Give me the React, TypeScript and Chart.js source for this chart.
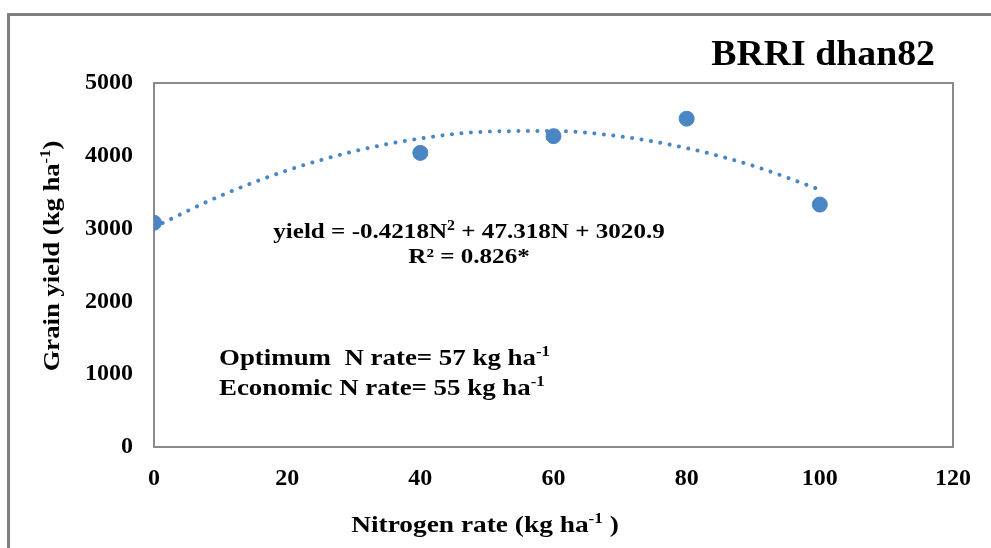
import React, { useEffect, useRef } from "react";
import { Chart, registerables } from "chart.js";

Chart.register(...registerables);

const nitrogenRates = [0, 40, 60, 80, 100];
const grainYield = [3080, 4040, 4270, 4510, 3330];
const trendRates = [0, 10, 20, 30, 40, 50, 60, 70, 80, 90, 100];
const trendYield = [3021, 3452, 3799, 4061, 4238, 4332, 4341, 4266, 4106, 3862, 3535];
const xTicks = [0, 20, 40, 60, 80, 100, 120];
const yTicks = [0, 1000, 2000, 3000, 4000, 5000];

const FONT = "'Liberation Serif', 'Times New Roman', serif";
const BLUE = "#4a86c4";

type Seg = { t: string; sup?: boolean };

function drawRich(
  ctx: CanvasRenderingContext2D,
  segs: Seg[],
  x: number,
  y: number,
  size: number,
  align: "left" | "center" | "right",
  stretch = 1
) {
  const supSize = Math.round(size * 0.62);
  let total = 0;
  const widths = segs.map((s) => {
    ctx.font = `bold ${s.sup ? supSize : size}px ${FONT}`;
    const w = ctx.measureText(s.t).width;
    total += w;
    return w;
  });
  ctx.save();
  ctx.translate(x, y);
  ctx.scale(stretch, 1);
  let cx = align === "left" ? 0 : align === "center" ? -total / 2 : -total;
  ctx.textAlign = "left";
  ctx.textBaseline = "alphabetic";
  segs.forEach((s, i) => {
    ctx.font = `bold ${s.sup ? supSize : size}px ${FONT}`;
    ctx.fillText(s.t, cx, s.sup ? -size * 0.38 : 0);
    cx += widths[i];
  });
  ctx.restore();
}

const decorPlugin = {
  id: "decor",
  beforeDatasetsDraw(chart: any) {
    const ctx = chart.ctx as CanvasRenderingContext2D;
    const a = chart.chartArea;
    ctx.save();
    // outer frame
    ctx.strokeStyle = "#7f7f7f";
    ctx.lineWidth = 3;
    ctx.strokeRect(8.5, 14.5, 1100, 700);
    // plot area border
    ctx.strokeStyle = "#8a8a8a";
    ctx.lineWidth = 2;
    ctx.strokeRect(a.left, a.top, a.right - a.left, a.bottom - a.top);
    ctx.restore();
  },
  afterDraw(chart: any) {
    const ctx = chart.ctx as CanvasRenderingContext2D;
    ctx.save();
    ctx.fillStyle = "#000";
    // title
    drawRich(ctx, [{ t: "BRRI dhan82" }], 935, 65, 36, "right", 1.05);
    // equation
    drawRich(
      ctx,
      [{ t: "yield = -0.4218N" }, { t: "2", sup: true }, { t: " + 47.318N + 3020.9" }],
      469,
      238,
      22,
      "center",
      1.14
    );
    drawRich(ctx, [{ t: "R² = 0.826*" }], 469, 263, 22, "center", 1.14);
    // optimum / economic
    drawRich(ctx, [{ t: "Optimum  N rate= 57 kg ha" }, { t: "-1", sup: true }], 219, 365, 24, "left", 1.12);
    drawRich(ctx, [{ t: "Economic N rate= 55 kg ha" }, { t: "-1", sup: true }], 219, 395, 24, "left", 1.12);
    // x title
    drawRich(ctx, [{ t: "Nitrogen rate (kg ha" }, { t: "-1", sup: true }, { t: " )" }], 485, 532, 24, "center", 1.14);
    // y title
    ctx.translate(59, 256);
    ctx.rotate(-Math.PI / 2);
    drawRich(ctx, [{ t: "Grain yield (kg ha" }, { t: "-1", sup: true }, { t: ")" }], 0, 0, 24, "center", 1.11);
    ctx.restore();
  },
};

export default function App() {
  const ref = useRef<HTMLCanvasElement | null>(null);
  useEffect(() => {
    if (!ref.current) return;
    const chart = new Chart(ref.current, {
      type: "scatter",
      data: {
        datasets: [
          {
            label: "Grain yield",
            data: nitrogenRates.map((n, i) => ({ x: n, y: grainYield[i] })),
            backgroundColor: BLUE,
            borderColor: BLUE,
            pointRadius: 7.5,
            pointHoverRadius: 7.5,
            showLine: false,
          },
          {
            label: "Trend",
            data: trendRates.map((n, i) => ({ x: n, y: trendYield[i] })),
            borderColor: BLUE,
            backgroundColor: BLUE,
            borderWidth: 4,
            borderDash: [0.01, 9.5],
            borderCapStyle: "round",
            pointRadius: 0,
            showLine: true,
            tension: 0.4,
            cubicInterpolationMode: "monotone",
          },
        ],
      },
      options: {
        responsive: false,
        animation: false,
        events: [],
        layout: { padding: { left: 54, top: 83, right: 38, bottom: 41 } },
        plugins: { legend: { display: false }, tooltip: { enabled: false }, title: { display: false } },
        scales: {
          x: {
            type: "linear",
            min: 0,
            max: 120,
            afterFit: (s: any) => {
              s.height = 60;
            },
            afterBuildTicks: (s: any) => {
              s.ticks = xTicks.map((v) => ({ value: v }));
            },
            ticks: {
              color: "#000",
              font: { family: FONT, size: 24, weight: "bold" },
              padding: 17,
              maxRotation: 0,
              callback: (v: any) => String(v),
            },
            grid: { display: false, drawTicks: false },
            border: { display: false },
          },
          y: {
            type: "linear",
            min: 0,
            max: 5000,
            afterFit: (s: any) => {
              s.width = 100;
            },
            afterBuildTicks: (s: any) => {
              s.ticks = yTicks.map((v) => ({ value: v }));
            },
            ticks: {
              color: "#000",
              font: { family: FONT, size: 24, weight: "bold" },
              padding: 21,
              callback: (v: any) => String(v),
            },
            grid: { display: false, drawTicks: false },
            border: { display: false },
          },
        },
      },
      plugins: [decorPlugin],
    } as any);
    return () => chart.destroy();
  }, []);
  return (
    <div style={{ position: "absolute", left: 0, top: 0, width: 991, height: 548, background: "#fff" }}>
      <canvas ref={ref} width={991} height={548} style={{ display: "block" }} />
    </div>
  );
}
